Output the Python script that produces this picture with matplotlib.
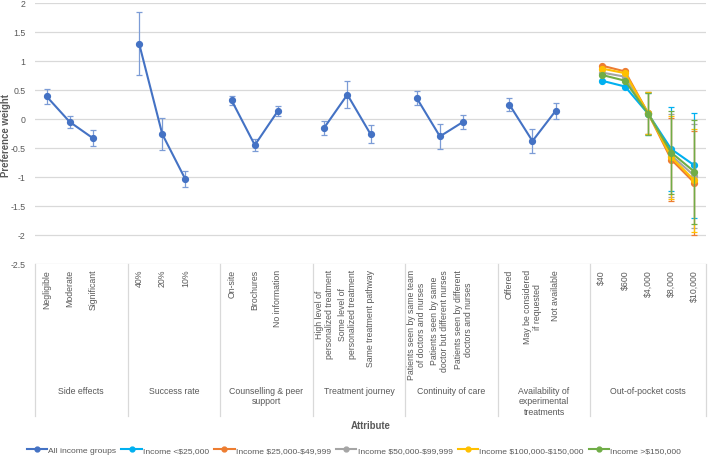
import matplotlib
matplotlib.use("Agg")
import matplotlib.pyplot as plt
import numpy as np
from matplotlib.lines import Line2D
from matplotlib.transforms import blended_transform_factory
from matplotlib.ticker import FuncFormatter

plt.rcParams['font.family'] = ['Liberation Sans', 'DejaVu Sans']
plt.rcParams['axes.unicode_minus'] = False

# ---------------- data ----------------
groups = ["Side effects", "Success rate", "Counselling & peer\nsupport",
          "Treatment journey", "Continuity of care",
          "Availability of\nexperimental\ntreatments", "Out-of-pocket costs"]

levels_side = ["Negligible", "Moderate", "Significant"]
levels_success = ["40%", "20%", "10%"]
levels_counsel = ["On-site", "Brochures", "No information"]
levels_journey = ["High level of\npersonalized treatment",
                  "Some level of\npersonalized treatment",
                  "Same treatment pathway"]
levels_continuity = ["Patients seen by same team\nof doctors and nurses",
                     "Patients seen by same\ndoctor but different nurses",
                     "Patients seen by different\ndoctors and nurses"]
levels_avail = ["Offered", "May be considered\nif requested", "Not available"]
levels_cost = [r"\$40", r"\$600", r"\$4,000", r"\$8,000", r"\$10,000"]

all_vals = [0.39, -0.05, -0.33,
            1.30, -0.26, -1.04,
            0.32, -0.45, 0.14,
            -0.15, 0.42, -0.26,
            0.36, -0.30, -0.05,
            0.25, -0.38, 0.14]
all_err = [0.13, 0.10, 0.14,
           0.54, 0.27, 0.14,
           0.08, 0.10, 0.09,
           0.12, 0.23, 0.15,
           0.12, 0.22, 0.12,
           0.11, 0.20, 0.14]

series_names = ["All income groups", r"Income <\$25,000", r"Income \$25,000-\$49,999",
                r"Income \$50,000-\$99,999", r"Income \$100,000-\$150,000",
                r"Income >\$150,000"]
series_colors = ["#4472C4", "#00B0F0", "#ED7D31", "#A5A5A5", "#FFC000", "#70AD47"]

cost_lt25 = [0.66, 0.56, 0.09, -0.52, -0.80]
cost_lt25_err = [0.0, 0.0, 0.36, 0.72, 0.90]
cost_25_50 = [0.92, 0.82, 0.10, -0.70, -1.10]
cost_25_50_err = [0.0, 0.0, 0.36, 0.72, 0.90]
cost_50_100 = [0.80, 0.73, 0.10, -0.63, -0.98]
cost_50_100_err = [0.0, 0.0, 0.36, 0.72, 0.90]
cost_100_150 = [0.87, 0.79, 0.10, -0.66, -1.06]
cost_100_150_err = [0.0, 0.0, 0.36, 0.72, 0.89]
cost_gt150 = [0.76, 0.66, 0.09, -0.58, -0.91]
cost_gt150_err = [0.0, 0.0, 0.36, 0.72, 0.90]

yticks = [-2.5, -2, -1.5, -1, -0.5, 0, 0.5, 1, 1.5, 2]

# ---------------- figure ----------------
W, H = 708, 456
fig = plt.figure(figsize=(W / 100, H / 100), dpi=100)
ax = fig.add_axes([35 / W, 1 - 265 / H, (706 - 35) / W, (265 - 4) / H])

grid_c = "#D9D9D9"
text_c = "#595959"
fs = 6.3

attr_levels = [levels_side, levels_success, levels_counsel, levels_journey,
               levels_continuity, levels_avail]
cost_series = [(cost_lt25, cost_lt25_err), (cost_25_50, cost_25_50_err),
               (cost_50_100, cost_50_100_err), (cost_100_150, cost_100_150_err),
               (cost_gt150, cost_gt150_err)]

# positions: each attribute group has its levels plus one blank slot
group_pos = []
start = 0
for lv in attr_levels:
    group_pos.append(list(range(start, start + len(lv))))
    start += len(lv) + 1
cost_pos = list(range(start, start + len(levels_cost)))
n_slots = start + len(levels_cost)

# main series
k = 0
for g, pos in enumerate(group_pos):
    v = all_vals[k:k + len(pos)]
    e = all_err[k:k + len(pos)]
    k += len(pos)
    ax.errorbar(pos, v, yerr=e, color=series_colors[0], lw=1.5, marker='o', ms=4.2,
                ecolor="#7C9CD6", elinewidth=0.9, capsize=2.4, capthick=0.9, zorder=3)

# cost series
for i, (vals, errs) in enumerate(cost_series):
    c = series_colors[i + 1]
    ax.errorbar(cost_pos, vals, yerr=errs, color=c, lw=1.5, marker='o', ms=4.2,
                ecolor=c, elinewidth=0.9, capsize=2.4, capthick=0.9, zorder=3 + i)

ax.set_xlim(-0.5, n_slots - 0.5)
ax.set_ylim(-2.5, 2)
ax.set_yticks(yticks)
ax.yaxis.set_major_formatter(FuncFormatter(lambda v, p: f"{v:g}"))
ax.tick_params(axis='y', length=0, pad=7, labelsize=fs, labelcolor=text_c)
ax.set_xticks([])
ax.grid(axis='y', color=grid_c, lw=0.9)
ax.set_axisbelow(True)
for s in ax.spines.values():
    s.set_visible(False)

# category labels
tr = blended_transform_factory(ax.transData, fig.transFigure)
all_pos = group_pos + [cost_pos]
all_levels = attr_levels + [levels_cost]
for pos, lv in zip(all_pos, all_levels):
    for x, lab in zip(pos, lv):
        ax.text(x, 1 - 270 / H, lab, transform=tr, rotation=90, ha='center', va='top',
                multialignment='center', fontsize=fs, color=text_c, linespacing=1.15)

# group labels and separators
bounds = [-0.5]
for pos in group_pos:
    bounds.append(pos[-1] + 1.5)
bounds.append(n_slots - 0.5)
for g, name in enumerate(groups):
    cx = (bounds[g] + bounds[g + 1]) / 2
    ax.text(cx, 1 - 387 / H, name, transform=tr, ha='center', va='top',
            multialignment='center', fontsize=fs, color=text_c, linespacing=1.2)
for b in bounds:
    fig.add_artist(Line2D([b, b], [1 - 265 / H, 1 - 417 / H], transform=tr,
                          color=grid_c, lw=0.9))

# axis titles
fig.text(6 / W, 1 - 136 / H, "Preference weight", rotation=90, ha='center', va='center',
         fontsize=6.9, fontweight='bold', color=text_c)
fig.text(371 / W, 1 - 426 / H, "Attribute", ha='center', va='center',
         fontsize=6.9, fontweight='bold', color=text_c)

# legend
handles = [Line2D([], [], color=c, lw=1.5, marker='o', ms=3.5) for c in series_colors]
fig.legend(handles, series_names, loc='center', bbox_to_anchor=(354 / W, 1 - 451 / H),
           ncol=6, frameon=False, fontsize=6.1, handlelength=2.4, handletextpad=0.15,
           columnspacing=0.6, labelcolor=text_c, borderaxespad=0, borderpad=0)

fig.savefig("out.png", dpi=100)
